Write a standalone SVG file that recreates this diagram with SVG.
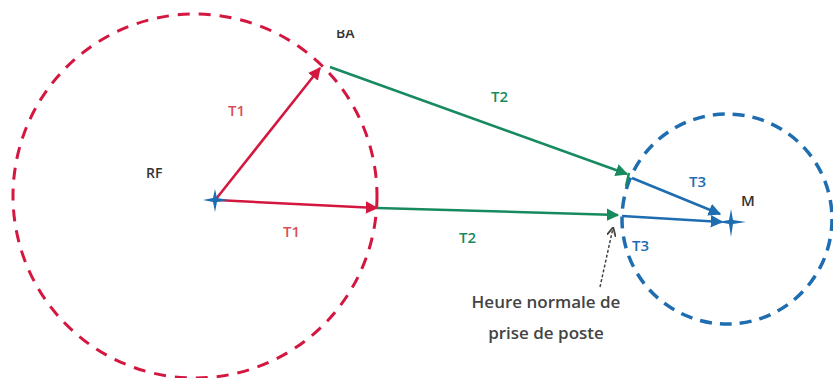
<svg xmlns="http://www.w3.org/2000/svg" width="833" height="378" viewBox="0 0 833 378">
<defs>
<style>
.lbl{font-family:"Open Sans","Liberation Sans",sans-serif;font-weight:600;font-size:15px}
.red{stroke:#d4173f;fill:none;stroke-width:2.5}
.grn{stroke:#178a5f;fill:none;stroke-width:2.5}
.blu{stroke:#1e6db0;fill:none;stroke-width:2.5}
.star{fill:#1e6db0}
</style>
<marker id="ar" viewBox="0 0 10 10" refX="9" refY="5" markerWidth="5" markerHeight="5" orient="auto"><path d="M0,0 L10,5 L0,10 z" fill="#d4173f"/></marker>
<marker id="ag" viewBox="0 0 10 10" refX="9" refY="5" markerWidth="5" markerHeight="5" orient="auto"><path d="M0,0 L10,5 L0,10 z" fill="#178a5f"/></marker>
<marker id="ab" viewBox="0 0 10 10" refX="9" refY="5" markerWidth="5" markerHeight="5" orient="auto"><path d="M0,0 L10,5 L0,10 z" fill="#1e6db0"/></marker>
<marker id="ak" viewBox="0 0 10 10" refX="9" refY="5" markerWidth="6" markerHeight="6" orient="auto"><path d="M0,0 L10,5 L0,10" fill="none" stroke="#444" stroke-width="2"/></marker>
<clipPath id="clipBA"><rect x="330" y="30" width="50" height="20"/></clipPath>
</defs>
<rect width="833" height="378" fill="#fff"/>
<g id="zones">
<circle cx="195" cy="196" r="182" fill="none" stroke="#d4173f" stroke-width="3" stroke-dasharray="12 9"/>
<circle cx="727" cy="219" r="105" fill="none" stroke="#1e6db0" stroke-width="3.5" stroke-dasharray="12 8"/>
</g>
<g id="connectors">
<line class="red" x1="216" y1="199" x2="320" y2="68" marker-end="url(#ar)"/>
<line class="red" x1="216" y1="200" x2="377" y2="208" marker-end="url(#ar)"/>
<line class="grn" x1="377" y1="208" x2="618" y2="215" marker-end="url(#ag)"/>
<line class="grn" x1="330" y1="67" x2="627" y2="174" marker-end="url(#ag)"/>
<path class="grn" d="M629,173 L626,186"/>
<line class="blu" x1="632" y1="178" x2="720" y2="214" marker-end="url(#ab)"/>
<line class="blu" x1="622" y1="216" x2="722" y2="222" marker-end="url(#ab)"/>
<line x1="600" y1="287" x2="613" y2="228" stroke="#444" stroke-width="1.5" stroke-dasharray="3 2" marker-end="url(#ak)"/>
</g>
<g id="RF">
<path class="star" d="M203,200 L213,198 L215,189 L217,198 L229,200 L217,202 L215,212 L213,202 Z"/>
<text class="lbl" x="146" y="178" fill="#333" style="font-size:14px">RF</text>
</g>
<g id="BA">
<text class="lbl" x="336" y="38" fill="#333" style="font-size:14px" clip-path="url(#clipBA)">BA</text>
</g>
<g id="M">
<path class="star" d="M718,222 L729,220 L731,209 L733,220 L746,222 L733,224 L731,237 L729,224 Z"/>
<text class="lbl" x="741" y="206" fill="#333">M</text>
</g>
<g id="labels">
<text class="lbl" x="228" y="116" fill="#d9505a">T1</text>
<text class="lbl" x="283" y="237" fill="#d9505a">T1</text>
<text class="lbl" x="491" y="102" fill="#178a5f">T2</text>
<text class="lbl" x="459" y="243" fill="#178a5f">T2</text>
<text class="lbl" x="689" y="187" fill="#1e6db0">T3</text>
<text class="lbl" x="632" y="251" fill="#1e6db0">T3</text>
</g>
<g id="note">
<text class="lbl" x="546" y="308" fill="#444" text-anchor="middle" style="font-size:17px">Heure normale de</text>
<text class="lbl" x="546" y="339" fill="#444" text-anchor="middle" style="font-size:17px">prise de poste</text>
</g>
</svg>
